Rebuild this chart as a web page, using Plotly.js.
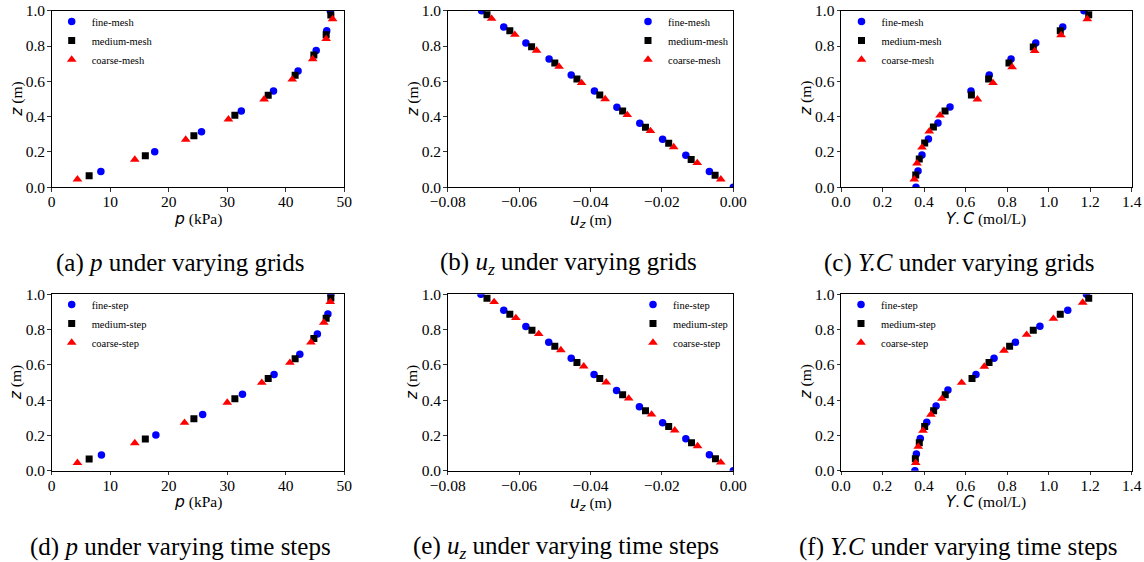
<!DOCTYPE html>
<html>
<head>
<meta charset="utf-8">
<script src="https://cdn.plot.ly/plotly-3.0.1.min.js"></script>
<style>html,body{margin:0;padding:0;background:#fff;}#chart{width:1144px;height:562px;}</style>
</head>
<body>
<div id="chart"></div>
<script>
// ---------- (a) p under varying grids ----------
const aFineP = [8.4, 17.6, 25.6, 32.4, 37.9, 42.1, 45.2, 47.0, 47.6];
const aFineZ = [0.089, 0.202, 0.315, 0.432, 0.545, 0.658, 0.774, 0.887, 1.0];
const aMedP = [6.4, 16.0, 24.3, 31.3, 37.0, 41.6, 44.8, 46.9, 47.7];
const aMedZ = [0.066, 0.179, 0.292, 0.408, 0.521, 0.634, 0.749, 0.864, 0.975];
const aCoaP = [4.4, 14.2, 22.9, 30.2, 36.3, 41.1, 44.6, 46.9, 48.0];
const aCoaZ = [0.045, 0.157, 0.270, 0.385, 0.498, 0.611, 0.726, 0.840, 0.953];

// ---------- (b) u_z under varying grids ----------
const bFineU = [-0.0705, -0.0643, -0.0581, -0.0516, -0.0454, -0.0389, -0.0326, -0.0262, -0.0198, -0.0133, -0.0067, 0.0];
const bFineZ = [1.0, 0.908, 0.817, 0.726, 0.636, 0.545, 0.453, 0.362, 0.272, 0.181, 0.089, 0.0];
const bMedU = [-0.0690, -0.0626, -0.0565, -0.0500, -0.0438, -0.0374, -0.0310, -0.0246, -0.0181, -0.0118, -0.0051];
const bMedZ = [0.977, 0.887, 0.796, 0.704, 0.613, 0.523, 0.432, 0.340, 0.249, 0.158, 0.068];
const bCoaU = [-0.0677, -0.0612, -0.0551, -0.0488, -0.0425, -0.0359, -0.0297, -0.0232, -0.0167, -0.0101, -0.0035];
const bCoaZ = [0.955, 0.864, 0.774, 0.683, 0.591, 0.500, 0.410, 0.319, 0.228, 0.138, 0.045];

// ---------- (c) Y.C under varying grids ----------
const cFineC = [0.361, 0.371, 0.390, 0.421, 0.467, 0.525, 0.626, 0.714, 0.819, 0.938, 1.068, 1.170];
const cFineZ = [0.0, 0.092, 0.183, 0.274, 0.364, 0.455, 0.545, 0.636, 0.726, 0.817, 0.908, 1.0];
const cMedC = [0.360, 0.377, 0.403, 0.445, 0.501, 0.628, 0.711, 0.809, 0.926, 1.056, 1.193];
const cMedZ = [0.070, 0.160, 0.251, 0.342, 0.432, 0.523, 0.613, 0.704, 0.794, 0.887, 0.977];
const cCoaC = [0.353, 0.366, 0.390, 0.425, 0.477, 0.657, 0.732, 0.824, 0.933, 1.060, 1.186];
const cCoaZ = [0.045, 0.136, 0.226, 0.317, 0.408, 0.498, 0.591, 0.681, 0.772, 0.862, 0.953];

// ---------- (d) p under varying time steps ----------
const dFineP = [8.5, 17.8, 25.8, 32.6, 38.0, 42.4, 45.4, 47.2, 47.7];
const dFineZ = [0.089, 0.202, 0.318, 0.433, 0.546, 0.660, 0.775, 0.888, 1.0];
const dMedP = [6.4, 16.0, 24.3, 31.3, 37.0, 41.6, 44.8, 46.9, 47.7];
const dMedZ = [0.066, 0.180, 0.295, 0.408, 0.522, 0.635, 0.750, 0.864, 0.979];
const dCoaP = [4.4, 14.2, 22.7, 30.0, 35.9, 40.7, 44.3, 46.5, 47.6];
const dCoaZ = [0.045, 0.157, 0.272, 0.386, 0.499, 0.612, 0.728, 0.840, 0.957];

// ---------- (e) u_z under varying time steps ----------
const eFineU = [-0.0707, -0.0643, -0.0581, -0.0517, -0.0454, -0.0390, -0.0327, -0.0263, -0.0198, -0.0133, -0.0067, 0.0];
const eFineZ = [1.0, 0.909, 0.818, 0.728, 0.637, 0.546, 0.454, 0.363, 0.272, 0.181, 0.091, 0.0];
const eMedU = [-0.0690, -0.0626, -0.0564, -0.0500, -0.0438, -0.0374, -0.0310, -0.0246, -0.0181, -0.0117, -0.0050];
const eMedZ = [0.977, 0.887, 0.796, 0.705, 0.614, 0.522, 0.431, 0.340, 0.250, 0.159, 0.068];
const eCoaU = [-0.0670, -0.0609, -0.0545, -0.0483, -0.0419, -0.0356, -0.0293, -0.0229, -0.0164, -0.0100, -0.0035];
const eCoaZ = [0.957, 0.866, 0.775, 0.684, 0.592, 0.501, 0.410, 0.319, 0.229, 0.140, 0.047];

// ---------- (f) Y.C under varying time steps ----------
const fFineC = [0.356, 0.363, 0.382, 0.413, 0.458, 0.515, 0.650, 0.737, 0.840, 0.958, 1.092, 1.182];
const fFineZ = [0.0, 0.094, 0.183, 0.274, 0.367, 0.457, 0.546, 0.637, 0.728, 0.819, 0.909, 1.0];
const fMedC = [0.358, 0.377, 0.403, 0.446, 0.502, 0.631, 0.713, 0.812, 0.926, 1.056, 1.193];
const fMedZ = [0.068, 0.159, 0.250, 0.340, 0.431, 0.522, 0.614, 0.705, 0.796, 0.887, 0.977];
const fCoaC = [0.360, 0.372, 0.395, 0.433, 0.486, 0.581, 0.690, 0.785, 0.894, 1.023, 1.164];
const fCoaZ = [0.045, 0.136, 0.227, 0.318, 0.408, 0.499, 0.590, 0.681, 0.771, 0.862, 0.953];

const gridNames = ['fine-mesh', 'medium-mesh', 'coarse-mesh'];
const stepNames = ['fine-step', 'medium-step', 'coarse-step'];
const captions = [
  '(a) <i>p</i> under varying grids',
  '(b) <i>u<sub>z</sub></i> under varying grids',
  '(c) <i>Y.C</i> under varying grids',
  '(d) <i>p</i> under varying time steps',
  '(e) <i>u<sub>z</sub></i> under varying time steps',
  '(f) <i>Y.C</i> under varying time steps'
];

const SANSI = 'font-family:DejaVu Sans;font-style:italic';
const xTitles = [
  '<span style="' + SANSI + '">p</span> (kPa)',
  '<span style="' + SANSI + '">u<sub>z</sub></span> (m)',
  '<span style="' + SANSI + '">Y</span>. <span style="' + SANSI + '">C</span> (mol/L)'
];
const yTitle = '<span style="' + SANSI + '">z</span> (m)';

const panels = [
  {series: [[aFineP, aFineZ], [aMedP, aMedZ], [aCoaP, aCoaZ]], names: gridNames},
  {series: [[bFineU, bFineZ], [bMedU, bMedZ], [bCoaU, bCoaZ]], names: gridNames},
  {series: [[cFineC, cFineZ], [cMedC, cMedZ], [cCoaC, cCoaZ]], names: gridNames},
  {series: [[dFineP, dFineZ], [dMedP, dMedZ], [dCoaP, dCoaZ]], names: stepNames},
  {series: [[eFineU, eFineZ], [eMedU, eMedZ], [eCoaU, eCoaZ]], names: stepNames},
  {series: [[fFineC, fFineZ], [fMedC, fMedZ], [fCoaC, fCoaZ]], names: stepNames}
];

// layout geometry (pixels)
const W = 1144, H = 562;
const colPx = [[51.7, 344.3], [447.7, 733.3], [841, 1131.7]];
const rowPx = [[10.7, 187.3], [294.3, 470.7]];
const xRanges = [[0, 50], [-0.08, 0], [0, 1.4]];
const xDticks = [10, 0.02, 0.2];
const xFormats = ['d', '.2f', '.1f'];
const xTitleShift = [0, -2, 0];
const legendPos = [[51.7, 7], [628, 7], [841.5, 7], [51.7, 290], [633, 290], [841, 290]];
const captionPos = [[180, 263], [568, 263], [959, 263], [180, 547], [566, 547], [958, 547]];

const markerStyles = [
  {symbol: 'circle', color: '#0000ff', size: 7.5},
  {symbol: 'square', color: '#000000', size: 7},
  {symbol: 'triangle-up', color: '#ff0000', size: 8.5}
];
const serif = 'Liberation Serif, Times New Roman, serif';

const traces = [];
const layout = {
  width: W, height: H,
  margin: {l: 0, r: 0, t: 0, b: 0},
  paper_bgcolor: '#ffffff', plot_bgcolor: '#ffffff',
  font: {family: serif, color: '#000000', size: 15.5},
  annotations: []
};

panels.forEach(function (p, i) {
  const row = Math.floor(i / 3), col = i % 3;
  const k = i + 1;
  const xa = 'x' + (k === 1 ? '' : k), ya = 'y' + (k === 1 ? '' : k);
  const legName = 'legend' + (k === 1 ? '' : k);
  p.series.forEach(function (s, j) {
    const m = markerStyles[j];
    traces.push({
      type: 'scatter', mode: 'markers',
      x: s[0], y: s[1], name: p.names[j],
      xaxis: xa, yaxis: ya, legend: legName,
      marker: {symbol: m.symbol, color: m.color, size: m.size, line: {width: 0}},
      cliponaxis: true,
      hoverinfo: 'x+y'
    });
  });
  const common = {
    showline: true, mirror: true, linecolor: '#000000', linewidth: 1,
    ticks: 'outside', ticklen: 3.5, tickwidth: 0.8, tickcolor: '#000000',
    showgrid: false, zeroline: false, automargin: false,
    tickfont: {family: serif, size: 15.5, color: '#000000'}
  };
  layout['xaxis' + (k === 1 ? '' : k)] = Object.assign({}, common, {
    domain: [colPx[col][0] / W, colPx[col][1] / W],
    anchor: ya,
    range: xRanges[col], dtick: xDticks[col], tick0: 0,
    tickformat: xFormats[col],
    ticklabelstandoff: -3
  });
  layout['yaxis' + (k === 1 ? '' : k)] = Object.assign({}, common, {
    domain: [1 - rowPx[row][1] / H, 1 - rowPx[row][0] / H],
    anchor: xa,
    range: [0, 1], dtick: 0.2, tick0: 0, tickformat: '.1f',
    ticklabelstandoff: -1
  });
  // axis titles placed relative to each subplot
  const xc = (colPx[col][0] + colPx[col][1]) / 2;
  const yc = (rowPx[row][0] + rowPx[row][1]) / 2;
  layout.annotations.push({
    xref: 'paper', yref: 'paper',
    x: xc / W, y: 1 - (rowPx[row][1] + 31.5) / H,
    xanchor: 'center', yanchor: 'middle', yshift: xTitleShift[col],
    text: xTitles[col], showarrow: false,
    font: {family: serif, size: 15.5, color: '#000000'}
  });
  layout.annotations.push({
    xref: 'paper', yref: 'paper',
    x: (colPx[col][0] - 35) / W, y: 1 - yc / H,
    xanchor: 'center', yanchor: 'middle', textangle: -90,
    text: yTitle, showarrow: false,
    font: {family: serif, size: 15.5, color: '#000000'}
  });
  layout[legName] = {
    x: legendPos[i][0] / W, y: 1 - legendPos[i][1] / H,
    xanchor: 'left', yanchor: 'top',
    bgcolor: 'rgba(0,0,0,0)', borderwidth: 0,
    font: {family: serif, size: 10.5, color: '#000000'}
  };
  layout.annotations.push({
    xref: 'paper', yref: 'paper',
    x: captionPos[i][0] / W, y: 1 - captionPos[i][1] / H,
    xanchor: 'center', yanchor: 'middle',
    text: captions[i], showarrow: false,
    font: {family: serif, size: 25, color: '#000000'}
  });
});

Plotly.newPlot('chart', traces, layout, {staticPlot: true, displayModeBar: false});
</script>
</body>
</html>
